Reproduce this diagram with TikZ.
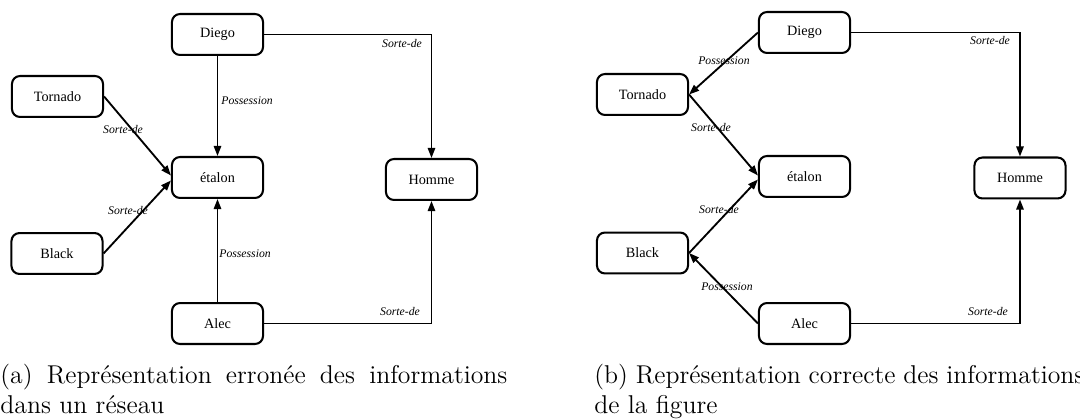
\documentclass[tikz,border=0pt]{standalone}
\usepackage{fontspec}
\newfontfamily\diagfont{Liberation Serif}
\usetikzlibrary{arrows.meta,calc}

\begin{document}
\begin{tikzpicture}[x=0.5128pt,y=-0.5128pt,
  box/.style={draw,line width=1.05pt,rounded corners=4.1pt,minimum width=46.7pt,
    minimum height=21pt,inner sep=0pt,font=\diagfont\fontsize{7.3}{8}\selectfont},
  arr/.style={line width=0.95pt,-{Triangle[length=5.2pt,width=3.8pt]}},
  lab/.style={inner sep=0pt,font=\diagfont\itshape\fontsize{6}{7}\selectfont},
  captext/.style={inner sep=0pt,anchor=base west,align=justify,
    font=\fontsize{13.2}{15.8}\selectfont}]
\useasboundingbox (0,0) rectangle (1080,419);

% ---- (a) wrong network ----
\node[box] (dA) at (217.5,34.5) {Diego};
\node[box] (tA) at (57.5,96.5) {Tornado};
\node[box] (eA) at (217.5,177.5) {étalon};
\node[box] (hA) at (431.5,179.5) {Homme};
\node[box] (bA) at (57,253.5) {Black};
\node[box] (aA) at (217.5,323.5) {Alec};

\draw[arr] (dA.east) -| (hA.north);
\draw[arr] (dA) -- (eA);
\draw[arr] (tA.east) -- ($(eA.west)+(0,-2)$);
\draw[arr] (bA.east) -- ($(eA.west)+(0,3)$);
\draw[arr] (aA) -- (eA);
\draw[arr] (aA.east) -| (hA.south);

\node[lab] (la1) at (402,44) {Sorte-de};
\node[lab,anchor=west] (la2) at (221,101) {Possession};
\node[lab] (la3) at (123,130) {Sorte-de};
\node[lab] (la4) at (128,211) {Sorte-de};
\node[lab,anchor=west] (la5) at (219,254) {Possession};
\node[lab] (la6) at (400,311) {Sorte-de};

% ---- (b) correct network ----
\node[box] (dB) at (804.5,32.5) {Diego};
\node[box] (tB) at (642.5,94.5) {Tornado};
\node[box] (eB) at (804.5,176.5) {étalon};
\node[box] (hB) at (1020,178) {Homme};
\node[box] (bB) at (642.5,253) {Black};
\node[box] (aB) at (804.5,323.5) {Alec};

\draw[arr] (dB.west) -- (tB.east);
\draw[arr] (tB.east) -- ($(eB.west)+(0,-1)$);
\draw[arr] (bB.east) -- ($(eB.west)+(0,3)$);
\draw[arr] (aB.west) -- (bB.east);
\draw[arr] (dB.east) -| (hB.north);
\draw[arr] (aB.east) -| (hB.south);

\node[lab] (lb1) at (724,61) {Possession};
\node[lab] (lb2) at (711,128) {Sorte-de};
\node[lab] (lb3) at (719,210) {Sorte-de};
\node[lab] (lb4) at (727,287) {Possession};
\node[lab] (lb5) at (990,41) {Sorte-de};
\node[lab] (lb6) at (988,311) {Sorte-de};

% ---- captions ----
\node[captext,text width=260pt] (ca) at (0,383)
  {\hyphenpenalty=10000 \exhyphenpenalty=10000
   (a) Représentation erronée des informations dans un réseau};
\node[captext,text width=251.3pt] (cb) at (594,383)
  {\hyphenpenalty=10000 \exhyphenpenalty=10000
   (b) Représentation correcte des informations de la figure};
\end{tikzpicture}
\end{document}
